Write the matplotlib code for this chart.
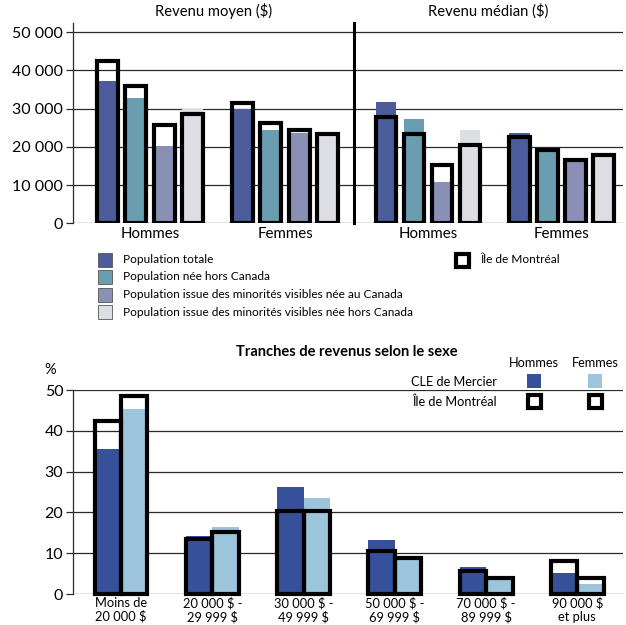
import numpy as np
import matplotlib
matplotlib.use("Agg")
import matplotlib.pyplot as plt
from matplotlib.patches import Rectangle

plt.rcParams['font.family'] = ['Lato', 'DejaVu Sans']

# --- données : revenus (haut) ---
groupes = ['Hommes', 'Femmes']
series = ['Population totale',
          'Population née hors Canada',
          'Population issue des minorités visibles née au Canada',
          'Population issue des minorités visibles née hors Canada']
couleurs = ['#4b5e9b', '#6b9db0', '#8a8fb6', '#dddee3']

# lignes = groupes (Hommes, Femmes), colonnes = séries
moyen_cle = [[37300, 32700, 20200, 29800],
             [29900, 24400, 23600, 23000]]
moyen_mtl = [[42400, 35900, 25700, 28600],
             [31400, 26300, 24400, 23400]]
median_cle = [[31700, 27200, 10900, 24400],
              [23600, 18800, 16300, 18100]]
median_mtl = [[27700, 23400, 15300, 20400],
              [22700, 19100, 16500, 17900]]

yticks_top = [0, 10000, 20000, 30000, 40000, 50000]
ytick_labels_top = ['0', '10 000', '20 000', '30 000', '40 000', '50 000']

# --- données : tranches de revenus (bas) ---
tranches = ['Moins de\n20 000 $', '20 000 $ -\n29 999 $', '30 000 $ -\n49 999 $',
            '50 000 $ -\n69 999 $', '70 000 $ -\n89 999 $', '90 000 $\net plus']
cle_hommes = [35.5, 14.2, 26.3, 13.2, 6.5, 5.1]
cle_femmes = [45.3, 16.3, 23.5, 8.6, 3.7, 2.5]
mtl_hommes = [42.4, 13.6, 20.3, 10.5, 5.7, 8.2]
mtl_femmes = [48.5, 15.1, 20.3, 8.8, 3.9, 3.8]
col_hommes = '#36509a'
col_femmes = '#9cc5dc'

W, H = 626, 625
fig = plt.figure(figsize=(W / 100, H / 100), dpi=100)


def fbox(x0, y0, x1, y1):
    # pixels (origine en haut à gauche) -> fraction de figure
    return [x0 / W, 1 - y1 / H, (x1 - x0) / W, (y1 - y0) / H]


GRID = '#2a2a2a'
LW_OUT = 3.0


def panneau(ax, cle, mtl, titre, xlim):
    cle = np.array(cle)
    mtl = np.array(mtl)
    pas = 0.21
    larg = 0.156
    for g in range(len(groupes)):
        for s in range(len(series)):
            x = g + (s - 1.5) * pas
            ax.bar(x, cle[g, s], larg, color=couleurs[s], zorder=2)
            ax.bar(x, mtl[g, s], larg, fill=False, edgecolor='black',
                   linewidth=LW_OUT, zorder=3, joinstyle='miter')
    ax.set_xlim(*xlim)
    ax.set_ylim(0, 52400)
    ax.set_yticks(yticks_top)
    for y in yticks_top:
        ax.axhline(y, color=GRID, lw=0.9, zorder=1)
    ax.set_xticks([0, 1])
    ax.set_xticklabels(groupes, fontsize=10.8)
    ax.tick_params(axis='x', length=0, pad=3)
    for sp in ['top', 'right', 'bottom']:
        ax.spines[sp].set_visible(False)
    ax.set_title(titre, fontsize=10.6, pad=5)


ax1 = fig.add_axes(fbox(73, 23, 354, 223.3))
panneau(ax1, moyen_cle, moyen_mtl, 'Revenu moyen ($)', (-0.57, 1.51))
ax1.set_yticklabels(ytick_labels_top, fontsize=11.5)
ax1.tick_params(axis='y', length=5, width=0.9, color=GRID, pad=2)
ax1.spines['left'].set_color(GRID)
ax1.spines['left'].set_linewidth(0.9)

ax2 = fig.add_axes(fbox(354, 23, 623, 223.3))
panneau(ax2, median_cle, median_mtl, 'Revenu médian ($)', (-0.554, 1.46))
ax2.tick_params(axis='y', length=0, labelleft=False)
ax2.spines['left'].set_linewidth(2.2)
ax2.spines['left'].set_color('black')

# légende du haut
leg_y = [260, 277, 295, 312]
for s, lab in enumerate(series):
    y = leg_y[s]
    fig.patches.append(Rectangle(((98) / W, 1 - (y + 7) / H), 14 / W, 14 / H,
                                 transform=fig.transFigure, facecolor=couleurs[s],
                                 edgecolor='#555555', lw=0.6))
    fig.text(123 / W, 1 - y / H, lab, fontsize=8.6, va='center', ha='left')
fig.patches.append(Rectangle((456 / W, 1 - 267 / H), 13 / W, 13 / H,
                             transform=fig.transFigure, fill=False,
                             edgecolor='black', lw=LW_OUT))
fig.text(480 / W, 1 - 260 / H, 'Île de Montréal', fontsize=8.6, va='center')

# --- graphique du bas ---
ax3 = fig.add_axes(fbox(73, 390, 623, 594))
x = np.arange(len(tranches))
bw = 0.29
ax3.bar(x - bw / 2, cle_hommes, bw, color=col_hommes, zorder=2)
ax3.bar(x + bw / 2, cle_femmes, bw, color=col_femmes, zorder=2)
ax3.bar(x - bw / 2, mtl_hommes, bw, fill=False, edgecolor='black',
        linewidth=LW_OUT, zorder=3, clip_on=False)
ax3.bar(x + bw / 2, mtl_femmes, bw, fill=False, edgecolor='black',
        linewidth=LW_OUT, zorder=3, clip_on=False)
ax3.set_xlim(-0.526, 5.5)
ax3.set_ylim(0, 50)
ax3.set_yticks(range(0, 51, 10))
ax3.set_yticklabels([str(v) for v in range(0, 51, 10)], fontsize=11.5)
for y in range(0, 51, 10):
    ax3.axhline(y, color=GRID, lw=0.9, zorder=1)
ax3.tick_params(axis='y', length=5, width=0.9, color=GRID, pad=2)
ax3.set_xticks(x)
ax3.set_xticklabels(tranches, fontsize=9.3, linespacing=1.15)
ax3.tick_params(axis='x', length=0, pad=2)
for sp in ['top', 'right', 'bottom']:
    ax3.spines[sp].set_visible(False)
ax3.spines['left'].set_color(GRID)
ax3.spines['left'].set_linewidth(0.9)

fig.text(347 / W, 1 - 352 / H, 'Tranches de revenus selon le sexe',
         fontsize=10.5, fontweight='bold', ha='center', va='center')
fig.text(50 / W, 1 - 370 / H, '%', fontsize=10.5, ha='center', va='center')

# légende du bas
fig.text(534 / W, 1 - 363 / H, 'Hommes', fontsize=9.2, ha='center', va='center')
fig.text(595 / W, 1 - 363 / H, 'Femmes', fontsize=9.2, ha='center', va='center')
fig.text(497 / W, 1 - 382 / H, 'CLE de Mercier', fontsize=9.2, ha='right', va='center')
fig.text(497 / W, 1 - 402 / H, 'Île de Montréal', fontsize=9.2, ha='right', va='center')
for cx, col in [(534, col_hommes), (595, col_femmes)]:
    fig.patches.append(Rectangle(((cx - 7) / W, 1 - 388 / H), 14 / W, 14 / H,
                                 transform=fig.transFigure, facecolor=col, lw=0))
    fig.patches.append(Rectangle(((cx - 6.5) / W, 1 - 408 / H), 13 / W, 13 / H,
                                 transform=fig.transFigure, fill=False,
                                 edgecolor='black', lw=LW_OUT))

fig.savefig('out.png', dpi=100)
